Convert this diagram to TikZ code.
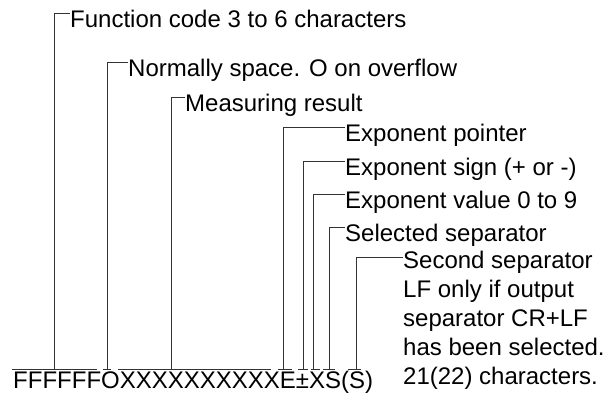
\documentclass[tikz,border=0pt]{standalone}
\usepackage{fontspec}
\setmainfont{Liberation Sans}
\begin{document}
\begin{tikzpicture}[x=1pt,y=-1pt,
  lbl/.style={anchor=base west,inner sep=0pt,font=\fontsize{24}{29}\selectfont},
  ln/.style={draw=black!80,line width=1pt}]
\useasboundingbox (0,0) rectangle (607,394);
% bottom string
\node[lbl] (str) at (13,388) {FFFFFFOXXXXXXXXXXE±XS(S)};
% labels
\node[lbl] (l1) at (70,27) {Function code 3 to 6 characters};
\node[lbl] (l2) at (128,76) {Normally space. O on overflow};
\node[lbl] (l3) at (185,111) {Measuring result};
\node[lbl] (l4) at (345,141) {Exponent pointer};
\node[lbl] (l5) at (345,175) {Exponent sign (+ or -)};
\node[lbl] (l6) at (345,208) {Exponent value 0 to 9};
\node[lbl] (l7) at (345,241) {Selected separator};
\node[lbl,align=left,anchor=north west] (l8) at (403,250.5) {Second separator\\LF only if output\\separator CR+LF\\has been selected.\\21(22) characters.};
% bar coordinates
\coordinate (b1a) at (12,369);  \coordinate (b1b) at (97,369);
\coordinate (b2a) at (103,369); \coordinate (b2b) at (111,369);
\coordinate (b3a) at (118,369); \coordinate (b3b) at (271,369);
\coordinate (b4a) at (278,369); \coordinate (b4b) at (292,369);
\coordinate (b5a) at (298,369); \coordinate (b5b) at (308,369);
\coordinate (b6a) at (311,369); \coordinate (b6b) at (320,369);
\coordinate (b7a) at (323,369); \coordinate (b7b) at (335,369);
\coordinate (b8a) at (348,369); \coordinate (b8b) at (361,369);
\foreach \i in {1,...,8} \draw[ln] (b\i a) -- (b\i b);
% leader corners
\coordinate (c1) at (54,13);   \coordinate (e1) at (54,369);
\coordinate (c2) at (107,62);  \coordinate (e2) at (107,369);
\coordinate (c3) at (171,97);  \coordinate (e3) at (171,369);
\coordinate (c4) at (283,127); \coordinate (e4) at (283,369);
\coordinate (c5) at (303,161); \coordinate (e5) at (303,369);
\coordinate (c6) at (313,194); \coordinate (e6) at (313,369);
\coordinate (c7) at (329,227); \coordinate (e7) at (329,369);
\coordinate (c8) at (356,257); \coordinate (e8) at (356,369);
\draw[ln] (e1) -- (c1) -- (c1 -| l1.west);
\draw[ln] (e2) -- (c2) -- (c2 -| l2.west);
\draw[ln] (e3) -- (c3) -- (c3 -| l3.west);
\draw[ln] (e4) -- (c4) -- (c4 -| l4.west);
\draw[ln] (e5) -- (c5) -- (c5 -| l5.west);
\draw[ln] (e6) -- (c6) -- (c6 -| l6.west);
\draw[ln] (e7) -- (c7) -- (c7 -| l7.west);
\draw[ln] (e8) -- (c8) -- (c8 -| l8.west);
\end{tikzpicture}
\end{document}
